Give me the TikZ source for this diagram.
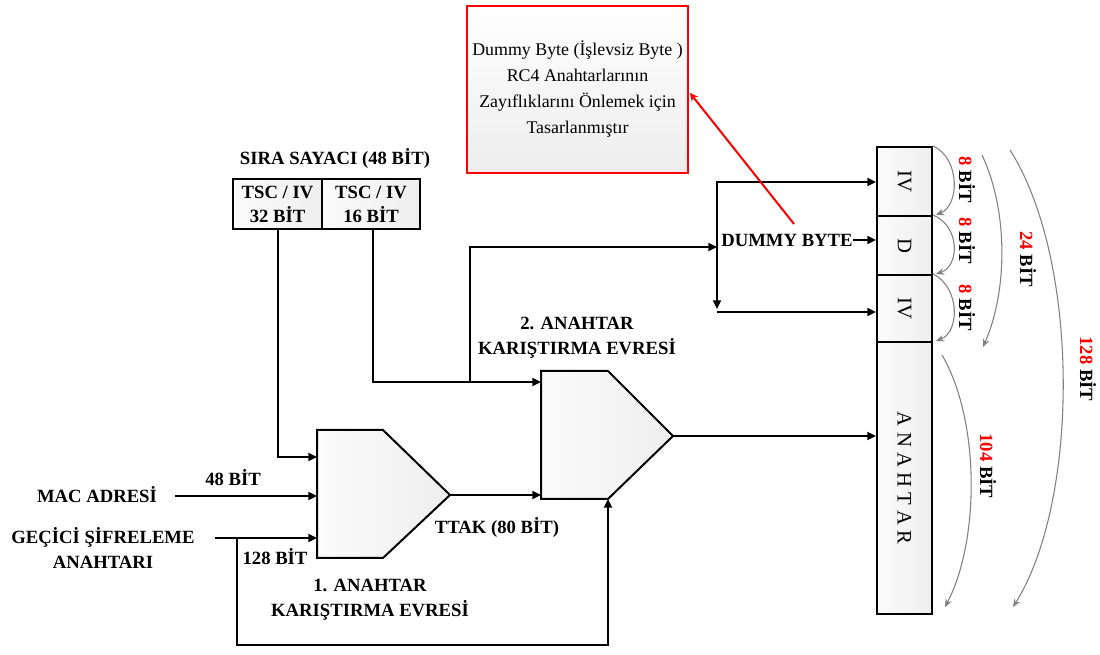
\documentclass[tikz,border=0pt]{standalone}
\usepackage{fontspec}
\setmainfont{Liberation Serif}
\usetikzlibrary{arrows.meta,calc}
\begin{document}
\begin{tikzpicture}[x=0.75pt,y=-0.75pt,
  lbl/.style={font=\fontsize{14}{18.75}\selectfont\bfseries, inner sep=0pt, align=center},
  wire/.style={line width=1.5pt},
  conn/.style={line width=1.5pt, -{Triangle[length=6.5pt,width=6pt]}},
  garc/.style={draw=gray, line width=0.8pt, -{Stealth[length=6pt,width=5pt]}},
  boxfill/.style={left color=gray!3, right color=gray!13},
  cell/.style={draw, line width=1.5pt, boxfill, inner sep=0pt, minimum width=41.25pt,
    font=\fontsize{15.5}{18}\selectfont},
  tsc/.style={draw, line width=1.5pt, boxfill, inner sep=0pt, minimum height=37.5pt,
    font=\fontsize{14}{18}\selectfont\bfseries, align=center},
  mixer/.style={draw, line width=1.5pt, line join=miter, boxfill},
]
\useasboundingbox (0,0) rectangle (1100,655);

% note box
\node[draw=red, line width=1.5pt, top color=white, bottom color=gray!14,
  minimum width=165.75pt, minimum height=125.25pt, align=center,
  font=\fontsize{13.4}{19.5}\selectfont] (note) at (577.5,89.5)
  {Dummy Byte (İşlevsiz Byte )\\RC4 Anahtarlarının\\Zayıflıklarını Önlemek için\\Tasarlanmıştır};

% sequence counter
\node[lbl] (sira) at (335,158) {SIRA SAYACI (48 BİT)};
\node[tsc, minimum width=66.75pt] (tsca) at (277.5,204) {TSC / IV\\32 BİT};
\node[tsc, minimum width=73.5pt] (tscb) at (371,204) {TSC / IV\\16 BİT};

% right column cells
\node[cell, minimum height=51.75pt] (iv1) at (904.5,181.5) {\rotatebox{-90}{IV}};
\node[cell, minimum height=44.25pt] (dd) at (904.5,245.5) {\rotatebox{-90}{D}};
\node[cell, minimum height=50.25pt] (iv2) at (904.5,308.5) {\rotatebox{-90}{IV}};
\node[cell, minimum height=204pt] (anahtar) at (904.5,478) {\rotatebox{-90}{A N A H T A R}};

% mixers
\draw[mixer] (317,430) -- (383,430) -- (450,495) -- (383,558) -- (317,558) -- cycle;
\coordinate (m1tip) at (450,495);
\draw[mixer] (541,371) -- (608,371) -- (673,436) -- (608,499) -- (541,499) -- cycle;
\coordinate (m2tip) at (673,436);
\coordinate (m2bot) at (608,499);

% labels
\node[lbl] (mac) at (97,495) {MAC ADRESİ};
\node[lbl] (gec) at (103,548) {GEÇİCİ ŞİFRELEME\\ANAHTARI};
\node[lbl] (b48) at (233,478) {48 BİT};
\node[lbl] (b128) at (275,557) {128 BİT};
\node[lbl] (ttak) at (497,527) {TTAK (80 BİT)};
\node[lbl] (ev1) at (370,600) {1. ANAHTAR\\KARIŞTIRMA EVRESİ};
\node[lbl] (ev2) at (577,338) {2. ANAHTAR\\KARIŞTIRMA EVRESİ};
\node[lbl] (dummy) at (787,240) {DUMMY BYTE};

% connectors into mixer 1
\coordinate (macend) at (175,496);
\coordinate (gecend) at (215,538);
\draw[conn] (macend) -- (317,496);
\draw[conn] (gecend) -- (317,538);
\draw[conn] (tsca.south -| 278,0) -- (278,457) -- (317,457);
% into mixer 2
\draw[conn] (tscb.south -| 373,0) -- (373,382) -- (541,382);
\draw[conn] (m1tip) -- (541,495);
\draw[conn] (237,538) -- (237,645) -- (608,645) -- (m2bot);
% branch to dummy byte
\coordinate (jt) at (717,182);
\coordinate (jb) at (717,312);
\draw[conn] (470,382) -- (470,247) -- (717,247);
\draw[conn] (jt) -- ($(jb)+(0,-3)$);
\draw[wire] (jt) -- ++(-1,0);
\draw[conn] (jt) -- (jt -| iv1.west);
\draw[conn] (jb) -- (jb -| iv2.west);
\draw[conn] (dummy.east) -- (dummy.east -| dd.west);
% mixer 2 output
\draw[conn] (m2tip) -- (m2tip -| anahtar.west);

% red pointer
\draw[red, line width=1.5pt, -{Stealth[length=6pt,width=6pt]}] (794,224) -- (690,93);

% bit arcs
\draw[garc] (iv1.north east) .. controls (960,158) and (960,205) .. ($(iv1.south east)+(3,-2)$);
\draw[garc] (dd.north east) .. controls (960,226) and (960,266) .. ($(dd.south east)+(3,-2)$);
\draw[garc] (iv2.north east) .. controls (960,287) and (960,332) .. ($(iv2.south east)+(3,-2)$);
\coordinate (a24s) at (982,155); \coordinate (a24e) at (983,347);
\draw[garc] (a24s) .. controls (1008,210) and (1008,290) .. (a24e);
\coordinate (a104s) at (942,355); \coordinate (a104e) at (945,607);
\draw[garc] (a104s) .. controls (980,420) and (980,540) .. (a104e);
\coordinate (a128s) at (1010,150); \coordinate (a128e) at (1013,607);
\draw[garc] (a128s) .. controls (1080,260) and (1080,500) .. (a128e);

\node[lbl, rotate=-90] (l8a) at (967,180) {\textcolor{red}{8} BİT};
\node[lbl, rotate=-90] (l8b) at (967,241) {\textcolor{red}{8} BİT};
\node[lbl, rotate=-90] (l8c) at (967,308) {\textcolor{red}{8} BİT};
\node[lbl, rotate=-90] (l24) at (1028,259) {\textcolor{red}{24} BİT};
\node[lbl, rotate=-90] (l104) at (988,466) {\textcolor{red}{104} BİT};
\node[lbl, rotate=-90] (l128) at (1088,369) {\textcolor{red}{128} BİT};
\end{tikzpicture}
\end{document}
